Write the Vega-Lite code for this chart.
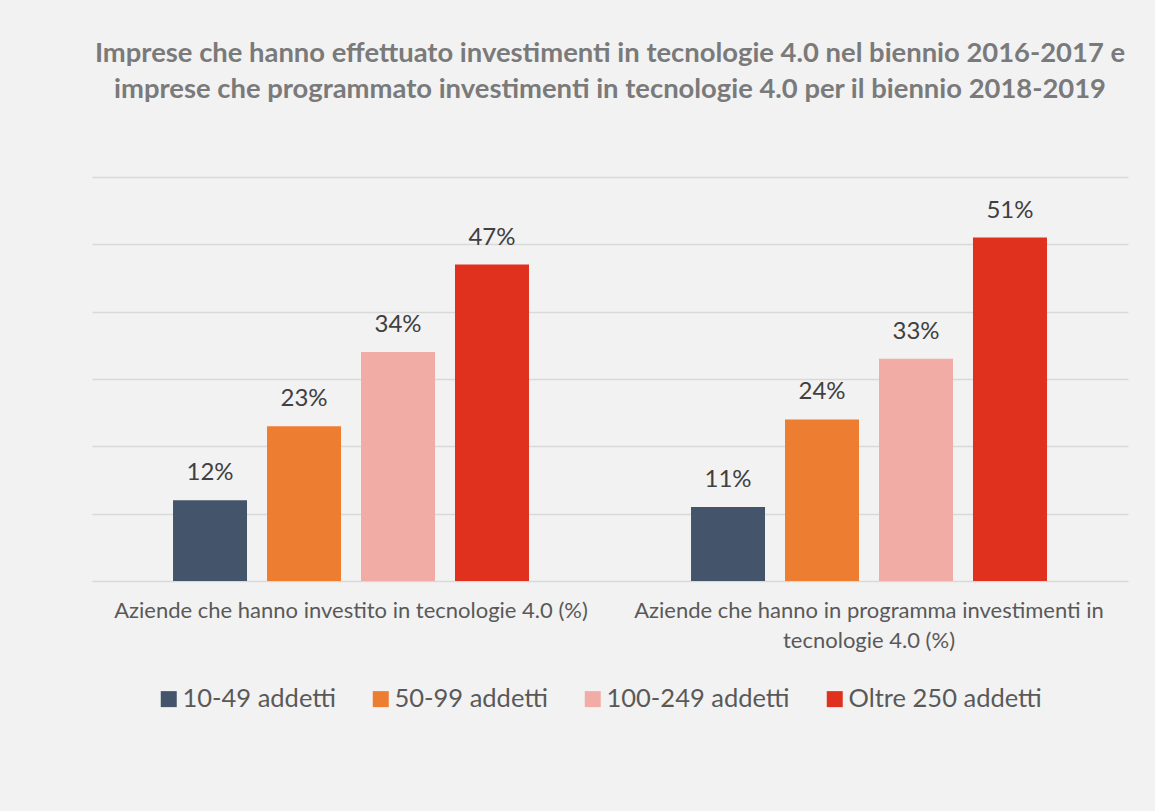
{
  "$schema": "https://vega.github.io/schema/vega-lite/v6.json",
  "autosize": "none",
  "width": 1036,
  "height": 404,
  "padding": {"left": 92, "top": 177, "right": 27, "bottom": 230},
  "background": "#f2f2f2",
  "config": {"view": {"stroke": null}},
  "title": {
    "text": ["Imprese che hanno effettuato investimenti in tecnologie 4.0 nel biennio 2016-2017 e", "imprese che programmato investimenti in tecnologie 4.0 per il biennio 2018-2019"],
    "font": "Lato",
    "fontSize": 27.4,
    "fontWeight": "bold",
    "color": "#7a7a7a",
    "lineHeight": 36,
    "anchor": "middle",
    "offset": 74
  },
  "data": {
    "values": [
      {"gruppo": "Aziende che hanno investito in tecnologie 4.0 (%)", "classe": "10-49 addetti", "valore": 0.12},
      {"gruppo": "Aziende che hanno investito in tecnologie 4.0 (%)", "classe": "50-99 addetti", "valore": 0.23},
      {"gruppo": "Aziende che hanno investito in tecnologie 4.0 (%)", "classe": "100-249 addetti", "valore": 0.34},
      {"gruppo": "Aziende che hanno investito in tecnologie 4.0 (%)", "classe": "Oltre 250 addetti", "valore": 0.47},
      {"gruppo": "Aziende che hanno in programma investimenti in tecnologie 4.0 (%)", "classe": "10-49 addetti", "valore": 0.11},
      {"gruppo": "Aziende che hanno in programma investimenti in tecnologie 4.0 (%)", "classe": "50-99 addetti", "valore": 0.24},
      {"gruppo": "Aziende che hanno in programma investimenti in tecnologie 4.0 (%)", "classe": "100-249 addetti", "valore": 0.33},
      {"gruppo": "Aziende che hanno in programma investimenti in tecnologie 4.0 (%)", "classe": "Oltre 250 addetti", "valore": 0.51}
    ]
  },
  "encoding": {
    "x": {
      "field": "gruppo",
      "type": "nominal",
      "sort": null,
      "scale": {"paddingInner": 0, "paddingOuter": 0},
      "axis": {
        "title": null,
        "labelAngle": 0,
        "labelFont": "Lato",
        "labelFontSize": 22,
        "labelColor": "#595959",
        "labelLineHeight": 30,
        "labelPadding": 19,
        "labelLimit": 600,
        "ticks": false,
        "domain": false,
        "labelExpr": "datum.value == 'Aziende che hanno in programma investimenti in tecnologie 4.0 (%)' ? ['Aziende che hanno in programma investimenti in', 'tecnologie 4.0 (%)'] : datum.value"
      }
    },
    "xOffset": {
      "field": "classe",
      "type": "nominal",
      "sort": ["10-49 addetti", "50-99 addetti", "100-249 addetti", "Oltre 250 addetti"],
      "scale": {"paddingInner": 0.2128, "paddingOuter": 0.862}
    },
    "y": {
      "field": "valore",
      "type": "quantitative",
      "scale": {"domain": [0, 0.6], "nice": false},
      "axis": {
        "title": null,
        "labels": false,
        "ticks": false,
        "domain": false,
        "values": [0, 0.1, 0.2, 0.3, 0.4, 0.5, 0.6],
        "grid": true,
        "gridColor": "#d9d9d9",
        "gridWidth": 1.6
      }
    }
  },
  "layer": [
    {
      "mark": {"type": "bar"},
      "encoding": {
        "color": {
          "field": "classe",
          "type": "nominal",
          "sort": ["10-49 addetti", "50-99 addetti", "100-249 addetti", "Oltre 250 addetti"],
          "scale": {
            "domain": ["10-49 addetti", "50-99 addetti", "100-249 addetti", "Oltre 250 addetti"],
            "range": ["#44546a", "#ed7d31", "#f2aca6", "#e0301e"]
          },
          "legend": {
            "title": null,
            "orient": "none",
            "legendX": 64,
            "legendY": 509,
            "direction": "horizontal",
            "symbolType": "square",
            "symbolSize": 256,
            "symbolStrokeWidth": 0,
            "labelFont": "Lato",
            "labelFontSize": 25.5,
            "labelColor": "#595959",
            "labelLimit": 400,
            "labelOffset": 1,
            "columnPadding": 32
          }
        }
      }
    },
    {
      "mark": {"type": "text", "baseline": "alphabetic", "dy": -20, "font": "Lato", "fontSize": 24, "color": "#404040"},
      "encoding": {
        "text": {"field": "valore", "type": "quantitative", "format": ".0%"}
      }
    }
  ]
}
